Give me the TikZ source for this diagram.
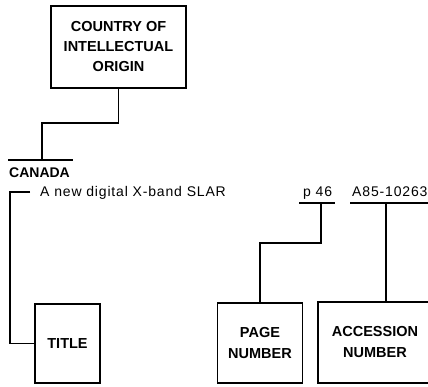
\documentclass[tikz,border=0pt]{standalone}
\usepackage{fontspec}
\setmainfont{Liberation Sans}
\newfontfamily\spacedfont[LetterSpace=6]{Liberation Sans}
\begin{document}
\begin{tikzpicture}[x=1pt,y=-1pt,
  lbl/.style={draw=black, line width=1.5pt, font=\bfseries\fontsize{14.5}{21}\selectfont, align=center, inner sep=0pt},
  wire/.style={line width=1.6pt},
  txt/.style={font=\spacedfont\fontsize{14}{16}\selectfont, inner sep=0pt, anchor=base west},
  hdr/.style={font=\bfseries\fontsize{14}{16}\selectfont, inner sep=0pt, anchor=base west}]
\clip (0,0) rectangle (428,387);
\useasboundingbox (0,0) rectangle (428,387);
% boxes
\node[lbl, font=\bfseries\fontsize{14.5}{20}\selectfont, minimum width=135pt, minimum height=82pt] (country) at (118.5,47) {COUNTRY OF\\INTELLECTUAL\\ORIGIN};
\node[lbl, minimum width=65pt, minimum height=79pt] (title) at (67.5,343.5) {TITLE};
\node[lbl, minimum width=85pt, minimum height=80pt] (page) at (260,343) {PAGE\\NUMBER};
\node[lbl, minimum width=114pt, minimum height=81pt] (acc) at (375,342.5) {ACCESSION\\NUMBER};
% texts
\node[hdr] (canada) at (9,178) {CANADA};
\node[txt] (ttl) at (40,197) {A new digital X-band SLAR};
\node[txt] (pnum) at (303,197) {p 46};
\node[txt] (anum) at (352,197) {A85-10263};
% rules
\coordinate (olL) at (8,160);
\coordinate (olR) at (73,160);
\coordinate (cjoin) at (42,160);
\coordinate (cmid) at (42,123);
\draw[wire] (olL) -- (olR);
\draw[wire] (country.south) |- (cmid) -- (cjoin);
\coordinate (brk) at (30,192);
\coordinate (brkc) at (10,192);
\draw[wire] (brk) -- (brkc) |- (title.west);
\coordinate (pL) at (299,203);
\coordinate (pR) at (335,203);
\coordinate (pj) at (321,203);
\coordinate (pmid) at (260,243);
\draw[wire] (pL) -- (pR);
\draw[wire] (pj) |- (pmid) -- (page.north);
\coordinate (aL) at (350,203);
\coordinate (aR) at (432,203);
\coordinate (aj) at (386,203);
\draw[wire] (aL) -- (aR);
\draw[wire] (aj) -- (aj |- acc.north);
\end{tikzpicture}
\end{document}
